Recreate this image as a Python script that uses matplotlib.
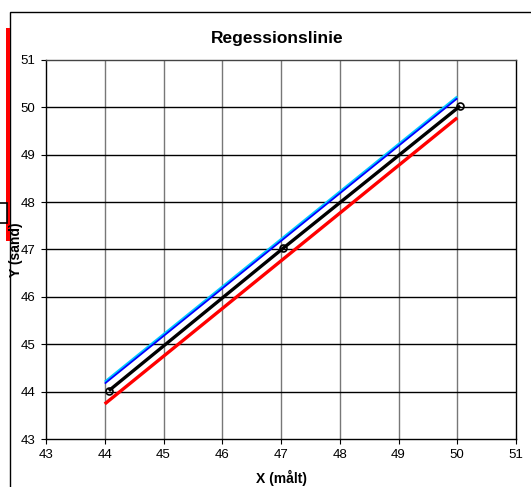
import matplotlib
matplotlib.use("Agg")
import matplotlib.pyplot as plt
from matplotlib.patches import Rectangle
import numpy as np

plt.rcParams['font.family'] = ['Liberation Sans', 'DejaVu Sans']

# Measured points
x_meas = [44.07, 47.04, 50.05]
y_true = [44.02, 47.03, 50.03]

# Line end points (x range 44..50)
line_x = [44, 50]
blue_y = [44.17, 50.19]
cyan_y = [44.21, 50.23]
red_y = [43.74, 49.78]

x_ticks = [43, 44, 45, 46, 47, 48, 49, 50, 51]
y_ticks = [43, 44, 45, 46, 47, 48, 49, 50, 51]

W, H = 531, 487
fig = plt.figure(figsize=(W / 100, H / 100), dpi=100)

# outer chart frame and decorations on the left
fig.patches.append(Rectangle((10 / W, -0.01), 1.0, 1 - 12 / H + 0.01, transform=fig.transFigure,
                             fill=False, edgecolor='black', lw=1.0))
fig.patches.append(Rectangle((6 / W, 1 - 241 / H), 3.5 / W, 213 / H, transform=fig.transFigure,
                             facecolor='#ff0000', edgecolor='none'))
fig.patches.append(Rectangle((-2 / W, 1 - 223 / H), 9 / W, 20 / H, transform=fig.transFigure,
                             facecolor='white', edgecolor='black', lw=1.2))

ax = fig.add_axes([46 / W, 1 - 439 / H, (516 - 46) / W, (439 - 60) / H])
ax.set_xlim(43, 51)
ax.set_ylim(43, 51)
ax.set_xticks(x_ticks)
ax.set_yticks(y_ticks)
ax.tick_params(direction='out', length=3.5, width=0.8, labelsize=9.5, pad=4)

for xv in x_ticks[1:-1]:
    ax.axvline(xv, color='#777777', lw=1.0, zorder=1)
for yv in y_ticks[1:-1]:
    ax.axhline(yv, color='black', lw=1.0, zorder=1)

for side in ['left', 'bottom', 'right']:
    ax.spines[side].set_linewidth(1.0)
    ax.spines[side].set_color('black')
ax.spines['top'].set_color('#444444')
ax.spines['top'].set_linewidth(1.0)

ax.plot(line_x, cyan_y, color='#00c8ff', lw=1.5, zorder=3, solid_capstyle='butt')
ax.plot(line_x, blue_y, color='#0000ff', lw=1.3, zorder=3, solid_capstyle='butt')
ax.plot(line_x, red_y, color='#ff0000', lw=2.4, zorder=3, solid_capstyle='butt')
ax.plot(x_meas, y_true, color='black', lw=2.4, zorder=4, solid_capstyle='butt')
ax.plot(x_meas, y_true, linestyle='none', marker='o', markersize=5,
        markerfacecolor='none', markeredgecolor='black', markeredgewidth=1.2, zorder=5)

fig.text(277 / W, 1 - 38 / H, 'Regessionslinie', ha='center', va='center',
         fontsize=12.5, fontweight='bold')
fig.text(281 / W, 1 - 478 / H, 'X (målt)', ha='center', va='center',
         fontsize=10, fontweight='bold')
fig.text(16 / W, 1 - 250 / H, 'Y (sand)', ha='center', va='center',
         fontsize=10, fontweight='bold', rotation=90)

fig.savefig('out.png', dpi=100)
